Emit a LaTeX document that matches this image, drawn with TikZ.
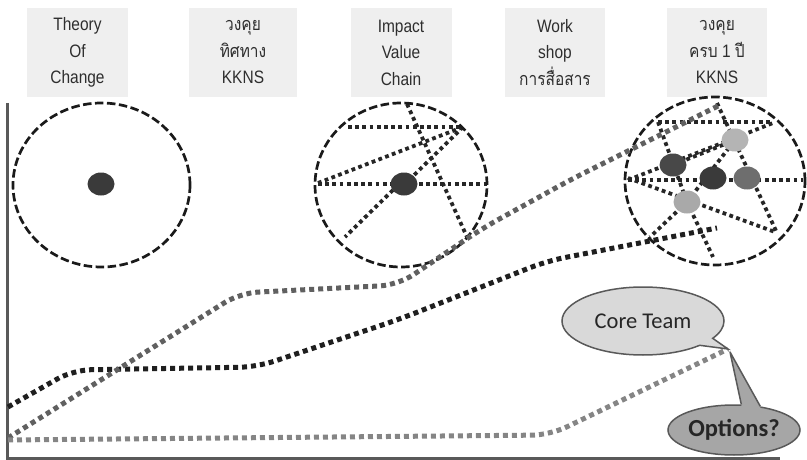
\documentclass[tikz,border=0pt]{standalone}
\usepackage{fontspec}
\setmainfont{Liberation Sans}
\newfontfamily\boxfont[FakeStretch=0.86]{Liberation Sans}
\newfontfamily\thaifont[Script=Thai,FakeStretch=0.86]{Loma}
\newfontfamily\calloutfont{Carlito}
\usetikzlibrary{shapes.geometric,shapes.callouts}

\definecolor{boxfill}{HTML}{EFEFEF}
\definecolor{boxtext}{HTML}{2E2E2E}
\definecolor{ringcol}{HTML}{1A1A1A}
\definecolor{linkcol}{HTML}{262626}
\definecolor{axiscol}{HTML}{595959}
\definecolor{trendA}{HTML}{1F1F1F}
\definecolor{trendB}{HTML}{606060}
\definecolor{trendC}{HTML}{858585}
\definecolor{corefill}{HTML}{D9D9D9}
\definecolor{optfill}{HTML}{A6A6A6}
\definecolor{edgecol}{HTML}{595959}
\definecolor{dotA}{HTML}{3A3A3A}
\definecolor{dotB}{HTML}{B4B4B4}
\definecolor{dotC}{HTML}{6E6E6E}
\definecolor{dotD}{HTML}{A9A9A9}
\definecolor{dotE}{HTML}{484848}

\begin{document}
\begin{tikzpicture}[x=1pt,y=-1pt,
  topbox/.style={fill=boxfill, text=boxtext, minimum width=101, minimum height=89,
    inner sep=0, align=center, font=\boxfont\fontsize{18}{26.5}\selectfont},
  stage/.style={ellipse, draw=ringcol, line width=2.7pt,
    dash pattern=on 8.5pt off 3.5pt, inner sep=0},
  link/.style={draw=linkcol, line width=3.8pt, dash pattern=on 3.8pt off 3.4pt},
  blob/.style={ellipse, inner sep=0, minimum width=27, minimum height=23},
  trend/.style={line width=5pt, dash pattern=on 5pt off 4pt, rounded corners=18pt},
  bubble/.style={draw=edgecol, line width=1.5pt, inner sep=0, text=black!85}]
\useasboundingbox (0,0) rectangle (807,460);

% stage labels along the top
\node[topbox] (toc)  at (77.5,52.5) {Theory\\Of\\Change};
\node[topbox, minimum width=108] (dir) at (243,52.5) {{\thaifont วงคุย}\\{\thaifont ทิศทาง}\\KKNS};
\node[topbox] (ivc)  at (401,52.5) {Impact\\Value\\Chain};
\node[topbox, minimum width=100] (ws) at (555,52.5) {Work\\shop\\{\thaifont การสื่อสาร}};
\node[topbox, minimum width=100] (year) at (717,52.5) {{\thaifont วงคุย}\\{\thaifont ครบ} 1 {\thaifont ปี}\\KKNS};

% axes
\draw[axiscol, line width=3pt] (7.5,103) -- (7.5,458.5) -- (780,458.5);

% stage 1: a single member
\node[stage, minimum width=177, minimum height=164] (ring1) at (101.5,185) {};
\node[blob, fill=dotA] (m1) at (101,184) {};

% stage 2: first links
\begin{scope}[shift={(401,185)}]
  \draw[link] (-53,-58) -- (62,-58);
  \draw[link] (-83,-2) -- (62,-58);
  \draw[link] (-83,-1) -- (89,-1);
  \draw[link] (6,-81) -- (66,52);
  \draw[link] (3,0) -- (62,-58);
  \draw[link] (-8,5) -- (-56,52);
\end{scope}
\node[stage, minimum width=172, minimum height=164] (ring2) at (401,185) {};
\node[blob, fill=dotA] (m2) at (404,184) {};

% stage 3: a network of members
\begin{scope}[shift={(715,181)}]
  \draw[link] (-57,-59) -- (58,-59);
  \draw[link] (-87,-1) -- (58,-58);
  \draw[link] (-87,-1) -- (88,-1);
  \draw[link] (2,-78) -- (62,52);
  \draw[link] (-87,-3) -- (60,51);
  \draw[link] (-28,21) -- (-2,76);
  \draw[link] (-28,21) -- (-65,56);
  \draw[link] (-28,21) -- (20,-41);
  \draw[link] (-57,-59) -- (-28,21);
  \draw[link] (-42,-16) -- (20,-41);
\end{scope}
\node[stage, minimum width=180, minimum height=168] (ring3) at (715,181) {};
\node[blob, fill=dotE] (n1) at (673,165) {};
\node[blob, fill=dotB] (n2) at (735,140) {};
\node[blob, fill=dotA] (n3) at (713,178) {};
\node[blob, fill=dotC] (n4) at (747,178) {};
\node[blob, fill=dotD] (n5) at (687,202) {};

% growth trends
\draw[trend, trendA] (8,407) -- (73,370) -- (257,367) -- (400,319) -- (547,261) -- (717,228);
\draw[trend, trendB] (8,438) -- (240,293) -- (398,285) -- (483,228) -- (570,180) -- (720,105);
\draw[trend, trendC] (8,440) -- (550,435) -- (728,349);

% callouts
\coordinate (coreTip) at (728,349);
\coordinate (optTip) at (730,352);
\node[bubble, ellipse callout, fill=corefill, minimum width=162, minimum height=68,
  callout absolute pointer={(coreTip)},
  font=\calloutfont\fontsize{22.5}{27}\selectfont] (core) at (643,321) {Core Team};
\node[bubble, ellipse, fill=optfill, minimum width=132, minimum height=50,
  font=\calloutfont\bfseries\fontsize{24.5}{28}\selectfont] (opt) at (734,430) {Options?};
% tail of the lower bubble, merged into its outline
\fill[optfill] ([yshift=-3.5pt]opt.74) -- (opt.74) -- (optTip) -- (opt.42)
  -- ([yshift=-3.5pt]opt.42) -- cycle;
\draw[edgecol, line width=1.5pt, line join=round] (opt.74) -- (optTip) -- (opt.42);
\end{tikzpicture}
\end{document}
